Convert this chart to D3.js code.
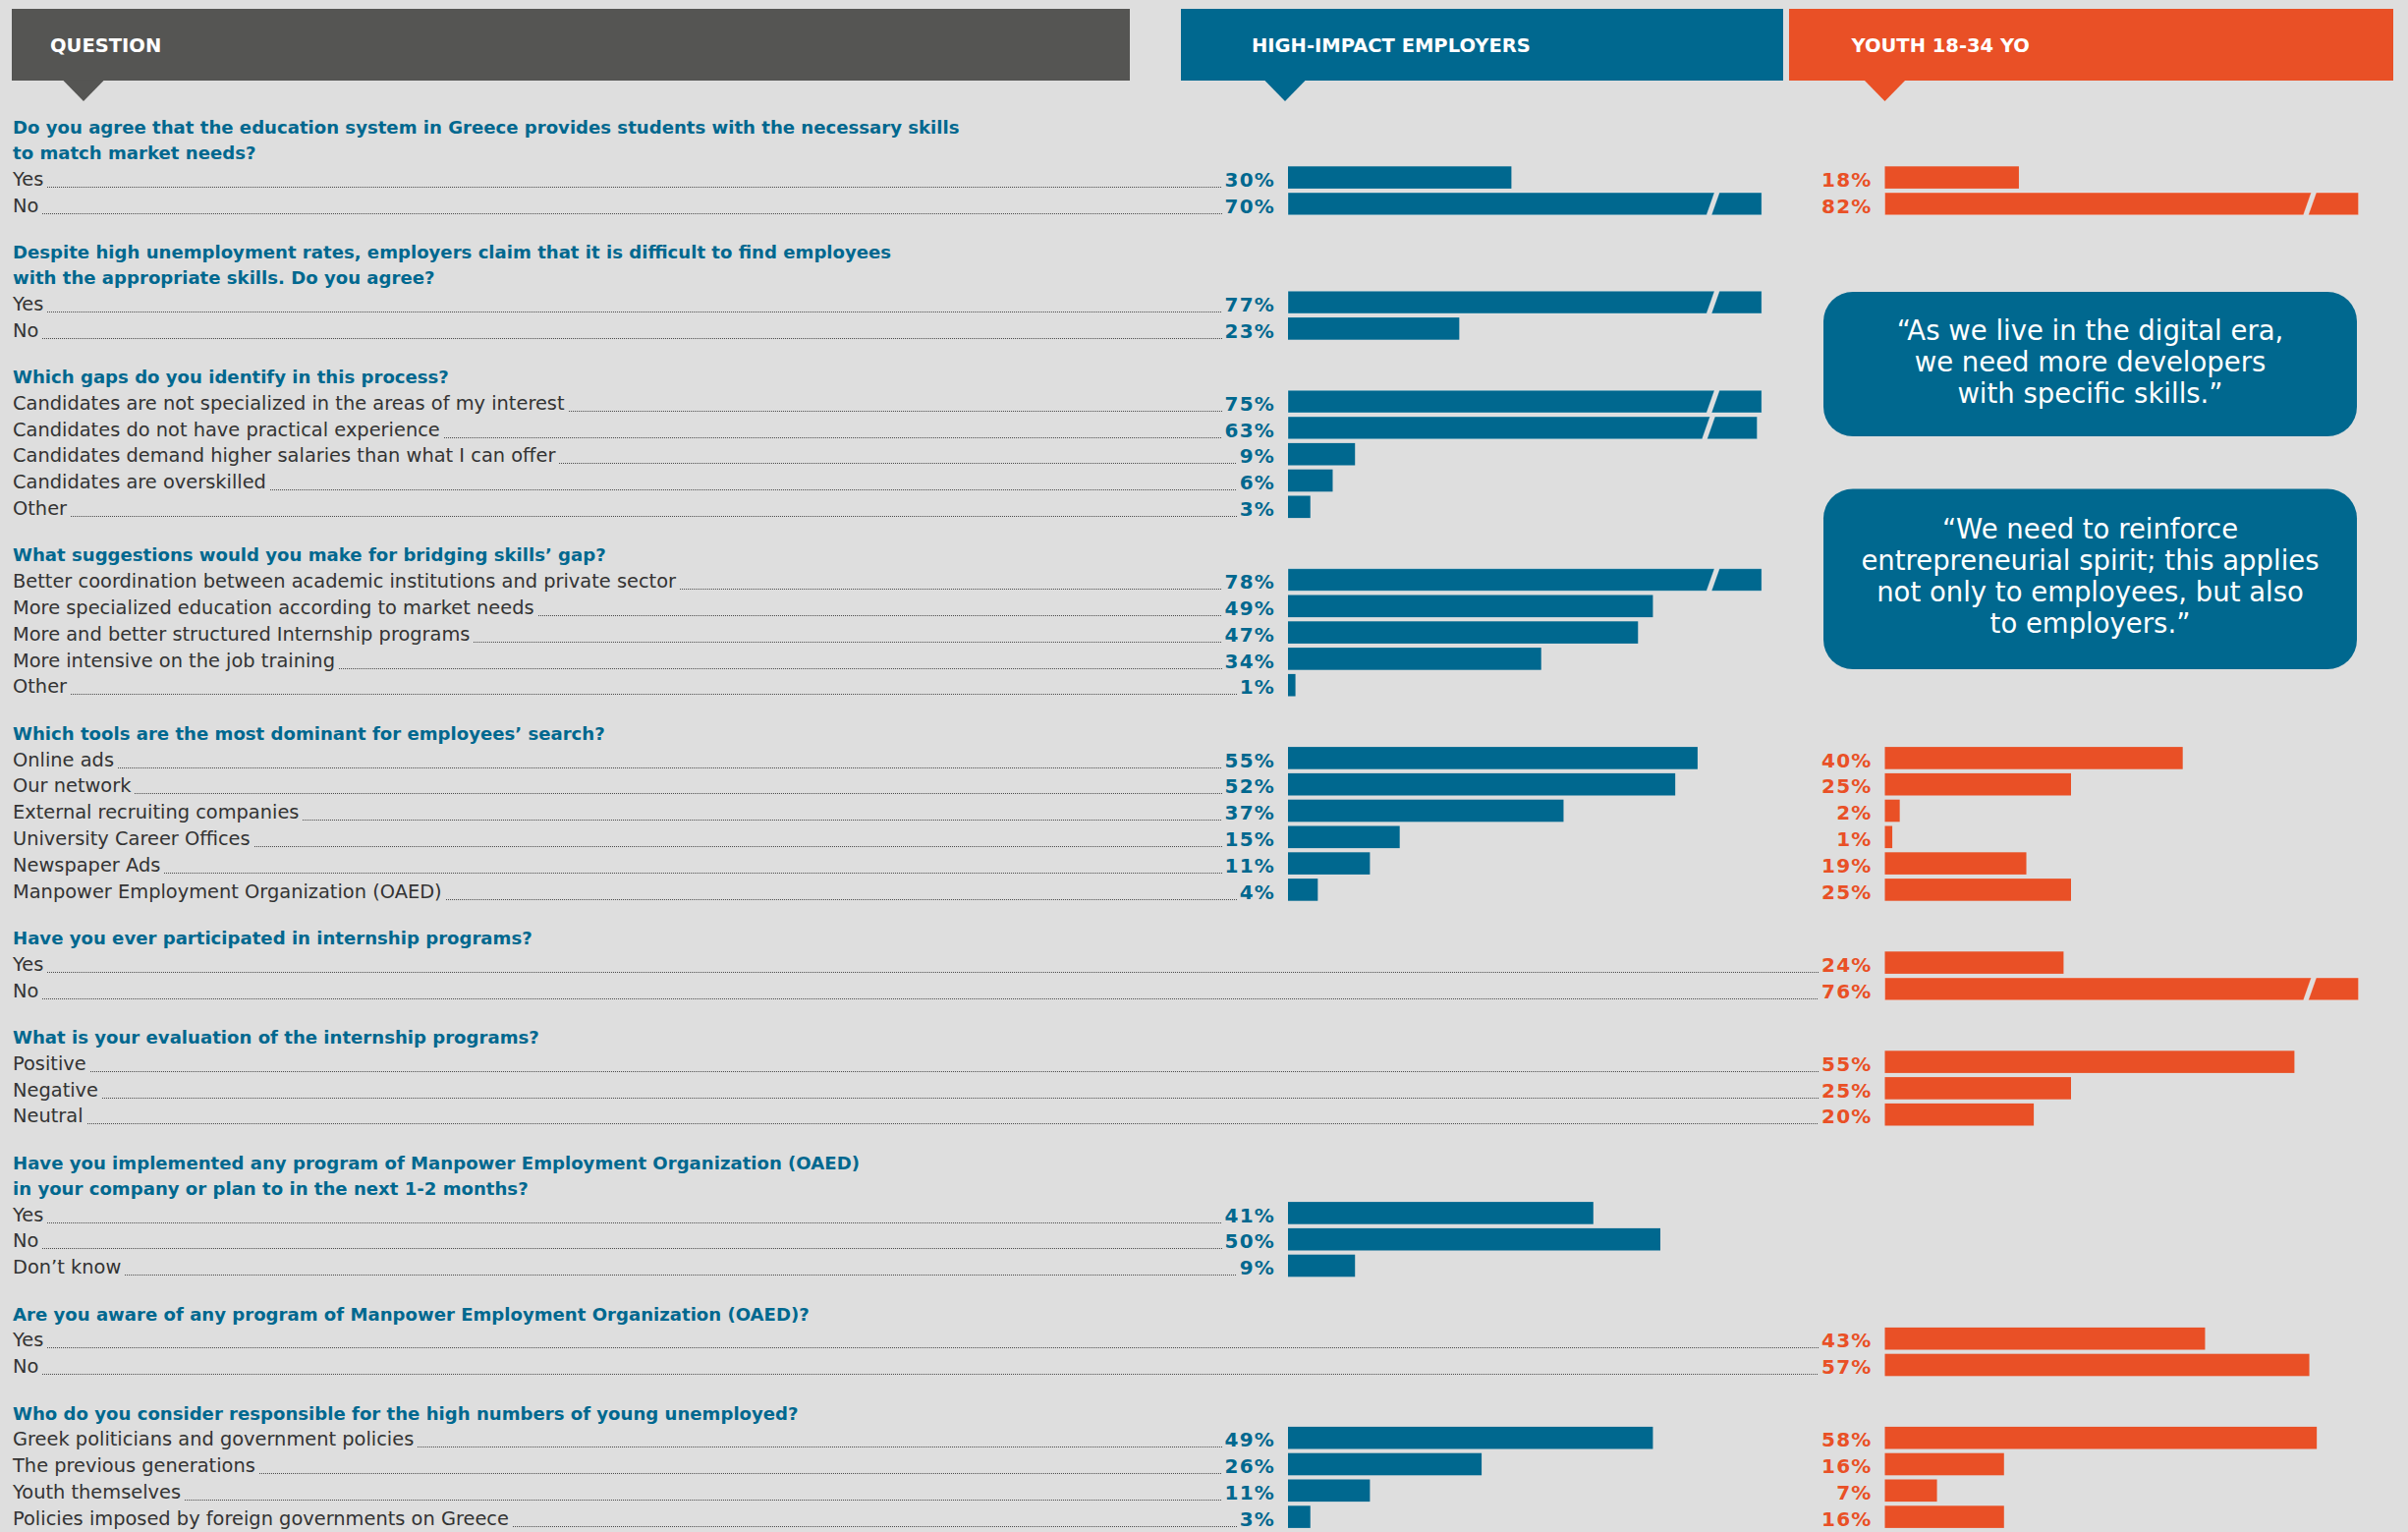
<!DOCTYPE html>
<html>
<head>
<meta charset="utf-8">
<script src="https://cdn.jsdelivr.net/npm/d3@7"></script>
<style>
  body { margin: 0; background: #dedede; }
  svg { display: block; font-family: "DejaVu Sans", sans-serif; }
</style>
</head>
<body>
<svg id="chart" width="2451" height="1559"></svg>
<script>
// column headers
var headers = ["QUESTION", "HIGH-IMPACT EMPLOYERS", "YOUTH 18-34 YO"];

// question titles, one entry per printed line
var questions = [
  ["Do you agree that the education system in Greece provides students with the necessary skills", "to match market needs?"],
  ["Despite high unemployment rates, employers claim that it is difficult to find employees", "with the appropriate skills. Do you agree?"],
  ["Which gaps do you identify in this process?"],
  ["What suggestions would you make for bridging skills’ gap?"],
  ["Which tools are the most dominant for employees’ search?"],
  ["Have you ever participated in internship programs?"],
  ["What is your evaluation of the internship programs?"],
  ["Have you implemented any program of Manpower Employment Organization (OAED)", "in your company or plan to in the next 1-2 months?"],
  ["Are you aware of any program of Manpower Employment Organization (OAED)?"],
  ["Who do you consider responsible for the high numbers of young unemployed?"]
];

var answers = [
  ["Yes", "No"],
  ["Yes", "No"],
  ["Candidates are not specialized in the areas of my interest", "Candidates do not have practical experience",
   "Candidates demand higher salaries than what I can offer", "Candidates are overskilled", "Other"],
  ["Better coordination between academic institutions and private sector", "More specialized education according to market needs",
   "More and better structured Internship programs", "More intensive on the job training", "Other"],
  ["Online ads", "Our network", "External recruiting companies", "University Career Offices", "Newspaper Ads",
   "Manpower Employment Organization (OAED)"],
  ["Yes", "No"],
  ["Positive", "Negative", "Neutral"],
  ["Yes", "No", "Don’t know"],
  ["Yes", "No"],
  ["Greek politicians and government policies", "The previous generations", "Youth themselves",
   "Policies imposed by foreign governments on Greece"]
];

// % answers, null = question not asked to that group
var employers = [
  [30, 70],
  [77, 23],
  [75, 63, 9, 6, 3],
  [78, 49, 47, 34, 1],
  [55, 52, 37, 15, 11, 4],
  [null, null],
  [null, null, null],
  [41, 50, 9],
  [null, null],
  [49, 26, 11, 3]
];

var youth = [
  [18, 82],
  [null, null],
  [null, null, null, null, null],
  [null, null, null, null, null],
  [40, 25, 2, 1, 19, 25],
  [24, 76],
  [55, 25, 20],
  [null, null, null],
  [43, 57],
  [58, 16, 7, 16]
];

var quotes = [
  ["“As we live in the digital era,", "we need more developers", "with specific skills.”"],
  ["“We need to reinforce", "entrepreneurial spirit; this applies", "not only to employees, but also", "to employers.”"]
];

var svg = d3.select("#chart"),
  W = +svg.attr("width"),
  H = +svg.attr("height");

var blue = "#00688f", orange = "#e95026", grey = "#555553", ink = "#333333";

var textX = 13,
  firstBaseline = 136,
  linePitch = 26.8,
  blockGap = 47.4,
  barH = 22.6,
  barOffset = 19.5,
  cap = 63.6;       // longest drawn bar, longer ones get a break mark

var xEmp = d3.scaleLinear().domain([0, 100]).range([1311, 2069]),
  xYouth = d3.scaleLinear().domain([0, 100]).range([1918.5, 2676.5]);

svg.append("rect").attr("width", W).attr("height", H).attr("fill", "#dedede");

// headers
var headBoxes = [
  {x0: 12, x1: 1150, tip: 85, fill: grey},
  {x0: 1202, x1: 1815, tip: xEmp(0) - 3, fill: blue},
  {x0: 1821, x1: 2436, tip: xYouth(0), fill: orange}
];
var head = svg.append("g").selectAll("g")
  .data(headBoxes)
  .enter().append("g");
head.append("rect")
  .attr("x", function(d) { return d.x0; })
  .attr("y", 9)
  .attr("width", function(d) { return d.x1 - d.x0; })
  .attr("height", 73)
  .attr("fill", function(d) { return d.fill; });
head.append("path")
  .attr("d", function(d) { return "M" + (d.tip - 21) + ",81.5L" + (d.tip + 21) + ",81.5L" + d.tip + ",103Z"; })
  .attr("fill", function(d) { return d.fill; });
head.append("text")
  .attr("x", function(d) { return d.tip - 34; })
  .attr("y", 53)
  .attr("fill", "#fff")
  .style("font-weight", "bold")
  .style("font-size", "19.5px")
  .text(function(d, i) { return headers[i]; });

// lay the lines out
var titleLines = [], rows = [];
var y = firstBaseline - blockGap;
questions.forEach(function(q, qi) {
  y += blockGap;
  q.forEach(function(line, li) {
    if (li > 0) y += 26;
    titleLines.push({text: line, y: y});
  });
  answers[qi].forEach(function(a, ai) {
    y += linePitch;
    rows.push({label: a, y: y, emp: employers[qi][ai], youth: youth[qi][ai]});
  });
});

svg.append("g").selectAll("text")
  .data(titleLines)
  .enter().append("text")
  .attr("x", textX)
  .attr("y", function(d) { return d.y; })
  .attr("fill", blue)
  .style("font-weight", "bold")
  .style("font-size", "18.1px")
  .text(function(d) { return d.text; });

var row = svg.append("g").selectAll("g")
  .data(rows)
  .enter().append("g")
  .attr("transform", function(d) { return "translate(0," + d.y + ")"; });

var label = row.append("text")
  .attr("x", textX)
  .attr("fill", ink)
  .style("font-size", "19.4px")
  .text(function(d) { return d.label; });

function pct(sel, key, scale, color) {
  return sel.filter(function(d) { return d[key] != null; })
    .append("text")
    .attr("class", "pct")
    .attr("x", scale(0) - 13)
    .attr("y", 1)
    .attr("text-anchor", "end")
    .attr("fill", color)
    .style("font-weight", "bold")
    .style("font-size", "20px")
    .style("letter-spacing", "1.2px")
    .text(function(d) { return d[key] + "%"; });
}
pct(row, "emp", xEmp, blue);
pct(row, "youth", xYouth, orange);

function bars(sel, key, scale, color) {
  var g = sel.filter(function(d) { return d[key] != null; }).append("g");
  var top = -barOffset, bot = -barOffset + barH;
  g.filter(function(d) { return d[key] <= 60; })
    .append("rect")
    .attr("x", scale(0))
    .attr("y", top)
    .attr("width", function(d) { return scale(d[key]) - scale(0); })
    .attr("height", barH)
    .attr("fill", color);
  // long bars: cut short with a slanted break
  var br = g.filter(function(d) { return d[key] > 60; });
  br.each(function(d) {
    var x0 = scale(0), x1 = scale(Math.min(d[key], cap)), bx = x1 - 56, sl = 8, gap = 5;
    var s = d3.select(this);
    s.append("path")
      .attr("d", "M" + x0 + "," + top + "L" + (bx + sl) + "," + top + "L" + bx + "," + bot + "L" + x0 + "," + bot + "Z");
    s.append("path")
      .attr("d", "M" + (bx + gap + sl) + "," + top + "L" + x1 + "," + top + "L" + x1 + "," + bot + "L" + (bx + gap) + "," + bot + "Z");
    s.selectAll("path")
      .attr("fill", color)
      .attr("stroke", "rgba(255,255,255,0.3)")
      .attr("stroke-width", 1);
  });
}
bars(row, "emp", xEmp, blue);
bars(row, "youth", xYouth, orange);

// dotted leaders from the answer to its first percentage
row.each(function(d) {
  var r = d3.select(this);
  var start = textX + r.select("text").node().getComputedTextLength() + 4;
  var p = r.select("text.pct").node();
  var end = p.getBBox().x - 3;
  var ly = Math.round(d.y + 1) - d.y + 0.5;
  r.insert("line", ":first-child")
    .attr("x1", Math.round(start))
    .attr("x2", Math.round(end))
    .attr("y1", ly)
    .attr("y2", ly)
    .attr("stroke", "#4a4a4a")
    .attr("stroke-width", 1)
    .attr("stroke-dasharray", "1,1");
});

// quotes
var quoteBoxes = [{y0: 297, y1: 444}, {y0: 497.5, y1: 681}];
var qb = svg.append("g").selectAll("g")
  .data(quoteBoxes)
  .enter().append("g");
qb.append("rect")
  .attr("x", 1856)
  .attr("y", function(d) { return d.y0; })
  .attr("width", 543)
  .attr("height", function(d) { return d.y1 - d.y0; })
  .attr("rx", 30)
  .attr("fill", blue);
qb.each(function(d, i) {
  var lines = quotes[i], cy = (d.y0 + d.y1) / 2;
  d3.select(this).selectAll("text")
    .data(lines)
    .enter().append("text")
    .attr("x", 1856 + 543 / 2)
    .attr("y", function(t, j) { return cy - (lines.length - 1) / 2 * 32 + j * 32 + 7; })
    .attr("text-anchor", "middle")
    .attr("fill", "#fff")
    .style("font-size", "27.5px")
    .text(function(t) { return t; });
});
</script>
</body>
</html>
